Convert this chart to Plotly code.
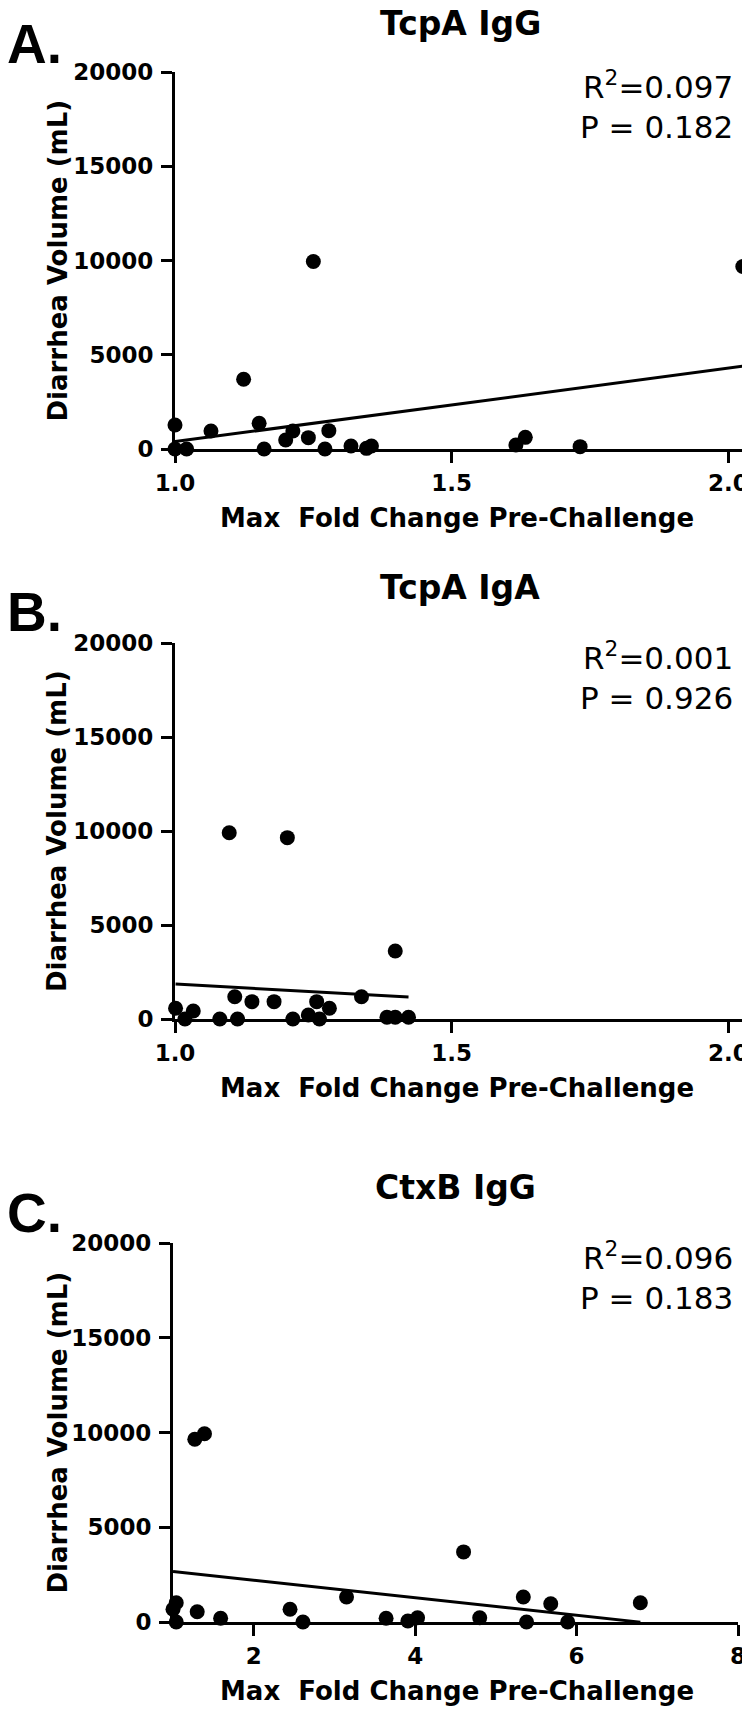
import numpy as np
import plotly.graph_objects as go

# ---------------- data ----------------
panel_letters = ["A.", "B.", "C."]
panel_titles = ["TcpA IgG", "TcpA IgA", "CtxB IgG"]
r2_values = ["0.097", "0.001", "0.096"]
p_values = ["0.182", "0.926", "0.183"]
x_axis_title = "Max\u00a0 Fold Change Pre-Challenge"
y_axis_title = "Diarrhea Volume (mL)"

y_ticks = [0, 5000, 10000, 15000, 20000]
x_ticks_ab = [1.0, 1.5, 2.0]
x_ticks_c = [2, 4, 6, 8]

tcpa_igg_fold = [1.0, 1.0, 1.021, 1.065, 1.124, 1.152, 1.161, 1.200, 1.213, 1.241,
                 1.250, 1.271, 1.278, 1.318, 1.346, 1.355, 1.616, 1.633, 1.732, 2.026]
tcpa_igg_vol = [1273, 0, 0, 955, 3699, 1361, 0, 477, 955, 601,
                9947, 0, 973, 159, 35, 159, 212, 618, 124, 9681]

tcpa_iga_fold = [1.001, 1.018, 1.033, 1.081, 1.098, 1.108, 1.113, 1.139, 1.179, 1.203,
                 1.213, 1.241, 1.256, 1.261, 1.279, 1.337, 1.383, 1.398, 1.398, 1.422]
tcpa_iga_vol = [569, 0, 425, 0, 9910, 1187, 0, 922, 922, 9645,
                0, 213, 922, 0, 569, 1187, 90, 90, 3617, 90]

ctxb_igg_fold = [1.04, 1.0, 1.04, 1.27, 1.39, 1.30, 1.59, 2.45, 2.61, 3.15,
                 3.64, 3.91, 4.03, 4.60, 4.80, 5.34, 5.38, 5.68, 5.89, 6.79]
ctxb_igg_vol = [1019, 670, 0, 9641, 9937, 544, 195, 670, 0, 1319,
                195, 50, 227, 3700, 227, 1319, 0, 966, 0, 1019]

# ---------------- layout geometry (screen pixels) ----------------
W, H = 750, 1711
BODY = 8  # default page margin around the plot div
panels = [
    dict(x=tcpa_igg_fold, y=tcpa_igg_vol, top=72, bottom=449, left=175, right=745,
         xrange=[1.0, 2.03], xticks=x_ticks_ab, fmt=".1f", title_y=24, letter_y=44),
    dict(x=tcpa_iga_fold, y=tcpa_iga_vol, top=643, bottom=1019, left=175, right=745,
         xrange=[1.0, 2.03], xticks=x_ticks_ab, fmt=".1f", title_y=587, letter_y=612),
    dict(x=ctxb_igg_fold, y=ctxb_igg_vol, top=1243, bottom=1622, left=173, right=738,
         xrange=[1, 8], xticks=x_ticks_c, fmt="d", title_y=1187, letter_y=1213),
]


def fx(px):
    return (px - BODY) / W


def fy(py):
    return 1 - (py - BODY) / H


FONT = "DejaVu Sans"
fig = go.Figure()
annotations = []

for i, p in enumerate(panels):
    n = "" if i == 0 else str(i + 1)
    xa, ya = "x" + n, "y" + n
    # regression line fitted to the data
    coef = np.polyfit(p["x"], p["y"], 1)
    xs = np.array([min(p["x"]), max(p["x"])])
    fig.add_trace(go.Scatter(x=xs, y=np.polyval(coef, xs), mode="lines",
                             line=dict(color="black", width=3),
                             xaxis=xa, yaxis=ya, showlegend=False, hoverinfo="skip"))
    fig.add_trace(go.Scatter(x=p["x"], y=p["y"], mode="markers",
                             marker=dict(color="black", size=15),
                             cliponaxis=False,
                             xaxis=xa, yaxis=ya, showlegend=False))

    common = dict(showline=True, linecolor="black", linewidth=3, ticks="outside",
                  ticklen=11, tickwidth=3, tickcolor="black", showgrid=False,
                  zeroline=False, automargin=False,
                  tickfont=dict(family=FONT, size=23, color="black", weight="bold"))
    fig.update_layout(**{
        ("xaxis" + n): dict(domain=[fx(p["left"]), fx(p["right"])], range=p["xrange"],
                            tickvals=p["xticks"], tickformat=p["fmt"], anchor=ya,
                            **common),
        ("yaxis" + n): dict(domain=[fy(p["bottom"]), fy(p["top"])], range=[0, 20000],
                            tickvals=y_ticks, tickformat="d", anchor=xa,
                            ticklabelstandoff=3, **common),
    })

    cx = (p["left"] + p["right"]) / 2
    cy = (p["top"] + p["bottom"]) / 2
    annotations += [
        dict(text=panel_titles[i], x=fx(cx), y=fy(p["title_y"]), xanchor="center",
             yanchor="middle", font=dict(family=FONT, size=33, color="black", weight="bold")),
        dict(text=panel_letters[i], x=fx(34), y=fy(p["letter_y"]),
             xanchor="center", yanchor="middle",
             font=dict(family="Liberation Sans", size=55, color="black", weight="bold")),
        dict(text="R<sup>2</sup>=" + r2_values[i] + "<br>P = " + p_values[i],
             x=fx(735), y=fy(p["top"] + 33), xanchor="right", yanchor="middle",
             align="right", font=dict(family=FONT, size=31, color="black")),
        dict(text=y_axis_title, x=fx(57), y=fy(cy), xanchor="center",
             yanchor="middle", textangle=-90,
             font=dict(family=FONT, size=26, color="black", weight="bold")),
        dict(text=x_axis_title, x=fx(457), y=fy(p["bottom"] + 69),
             xanchor="center", yanchor="middle",
             font=dict(family=FONT, size=26, color="black", weight="bold")),
    ]

for a in annotations:
    a.update(xref="paper", yref="paper", showarrow=False)

fig.update_layout(width=W, height=H, margin=dict(l=0, r=0, t=0, b=0, autoexpand=False),
                  paper_bgcolor="white", plot_bgcolor="white",
                  annotations=annotations)

fig.write_html("out.html")
